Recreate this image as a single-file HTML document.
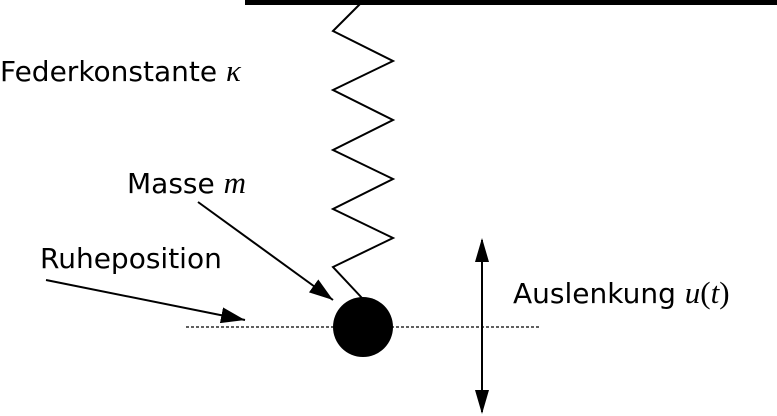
<!DOCTYPE html>
<html><head><style>
html,body{margin:0;padding:0;background:#fff;}
svg{display:block;}
text{font-family:"DejaVu Sans","Liberation Sans",sans-serif;font-size:28px;fill:#000;}
.m{font-family:"Liberation Serif",serif;font-style:italic;font-size:31px;}
.r{font-family:"Liberation Serif",serif;font-size:31px;}
</style></head><body>
<svg width="777" height="416" viewBox="0 0 777 416" xmlns="http://www.w3.org/2000/svg">
<defs>
<marker id="b" markerWidth="24" markerHeight="16" refX="24" refY="8" orient="auto" markerUnits="userSpaceOnUse"><path d="M0,0 L24,8 L0,16 Z" fill="#000"/></marker>
</defs>
<rect x="245" y="0" width="532" height="5" fill="#000"/>
<polyline points="360,4 333,31 393,61 333,90 393,120 333,150 393,179 333,209 393,238 333,267 362,298" fill="none" stroke="#000" stroke-width="2"/>
<line x1="186" y1="327" x2="540" y2="327" stroke="#000" stroke-width="1.3" stroke-dasharray="3,2"/>
<circle cx="363" cy="327" r="30" fill="#000"/>
<line x1="482" y1="240" x2="482" y2="412" stroke="#000" stroke-width="2"/>
<path d="M482,238 L475,262 L489,262 Z M482,414 L475,390 L489,390 Z" fill="#000"/>
<line x1="198" y1="202" x2="333" y2="300" stroke="#000" stroke-width="2" marker-end="url(#b)"/>
<line x1="46" y1="280" x2="245" y2="320" stroke="#000" stroke-width="2" marker-end="url(#b)"/>
<text x="0" y="81">Federkonstante <tspan class="m">κ</tspan></text>
<text x="127" y="193">Masse <tspan class="m">m</tspan></text>
<text x="40" y="268">Ruheposition</text>
<text x="513" y="303">Auslenkung <tspan class="m">u</tspan><tspan class="r">(</tspan><tspan class="m">t</tspan><tspan class="r">)</tspan></text>
</svg>
</body></html>
